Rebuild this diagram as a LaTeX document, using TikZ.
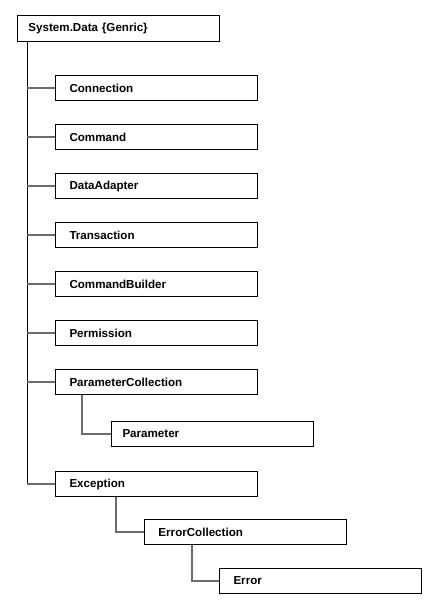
\documentclass[tikz,border=0pt]{standalone}
\usepackage{fontspec}
\setmainfont{Liberation Sans}
\begin{document}
\begin{tikzpicture}[x=0.75pt,y=-0.75pt,
  box/.style={draw=black,line width=0.75pt,anchor=north west,minimum width=151.5pt,
    minimum height=18.75pt,inner xsep=10.5pt,inner ysep=0pt,text width=130.5pt,align=left,
    font=\bfseries\fontsize{8.7}{10}\selectfont},
  rootbox/.style={box,inner xsep=8.25pt,text width=135pt},
  conn/.style={draw=gray!85!black,line width=1.1pt},
  spinel/.style={draw=black,line width=0.75pt}]
\useasboundingbox (0,0) rectangle (436,612);
\node[rootbox,minimum height=19.5pt] (root) at (17,15) {System.Data \{Genric\}};
\node[box] (cn) at (55,75) {Connection};
\node[box] (cm) at (55,124) {Command};
\node[box] (da) at (55,173) {DataAdapter};
\node[box] (tr) at (55,222) {Transaction};
\node[box] (cb) at (55,271) {CommandBuilder};
\node[box] (pm) at (55,320) {Permission};
\node[box] (pc) at (55,369) {ParameterCollection};
\node[rootbox] (pa) at (111,421) {Parameter};
\node[box] (ex) at (55,471) {Exception};
\node[box] (ec) at (144,519) {ErrorCollection};
\node[box] (er) at (219,568) {Error};
\coordinate (spine) at ([xshift=7.5pt]root.south west);
\draw[spinel] (spine) -- (spine |- ex.west);
\foreach \n in {cn,cm,da,tr,cb,pm,pc,ex}
  \draw[conn] (spine |- \n.west) -- (\n.west);
\draw[conn] ([xshift=20.25pt]pc.south west) |- (pa.west);
\draw[conn] ([xshift=45.75pt]ex.south west) |- (ec.west);
\draw[conn] ([xshift=36pt]ec.south west) |- (er.west);
\end{tikzpicture}
\end{document}
